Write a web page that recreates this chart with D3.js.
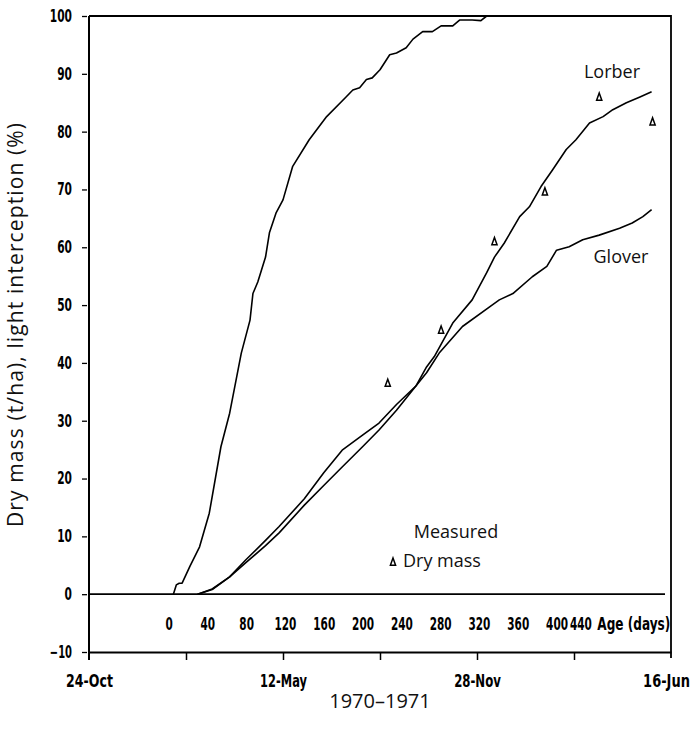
<!DOCTYPE html>
<html>
<head>
<meta charset="utf-8">
<script src="https://cdn.jsdelivr.net/npm/d3@7"></script>
<style>
  body { margin: 0; background: #fff; }
  .tick text, .axlbl { font-family: "DejaVu Sans Condensed", "DejaVu Sans", sans-serif; font-weight: bold; font-size: 17px; }
  .lbl { font-family: "Open Sans", sans-serif; fill: #111; }
</style>
</head>
<body>
<script>
// y ticks and axis ticks
const yTicks = [-10, 0, 10, 20, 30, 40, 50, 60, 70, 80, 90, 100];
const ageTicks = [0, 40, 80, 120, 160, 200, 240, 280, 320, 360, 400, 440];
const dateTicks = [
  new Date(Date.UTC(1969, 9, 24)), new Date(Date.UTC(1970, 1, 1)),
  new Date(Date.UTC(1970, 4, 12)), new Date(Date.UTC(1970, 7, 20)),
  new Date(Date.UTC(1970, 10, 28)), new Date(Date.UTC(1971, 2, 8)),
  new Date(Date.UTC(1971, 5, 16))
];
const dateLabels = ["24-Oct", "", "12-May", "", "28-Nov", "", "16-Jun"];
const ageZero = new Date(Date.UTC(1970, 0, 14)); // age 0 = 14 Jan 1970

// light interception (%) vs age (days)
const liAge = [5, 8, 11, 14, 22, 32, 42, 54, 63, 75, 84, 87, 92, 100, 104, 111, 118, 128, 145, 163, 183, 190, 197, 204, 210, 218, 228, 235, 245, 252, 262, 272, 281, 293, 300, 313, 322, 328];
const liValue = [0, 1.6, 1.9, 1.9, 4.8, 8.2, 14, 25.5, 31.3, 41.7, 47.4, 52, 54, 58.3, 62.5, 66, 68.2, 74, 78.6, 82.6, 86, 87.2, 87.6, 89, 89.3, 90.7, 93.3, 93.6, 94.5, 96, 97.3, 97.3, 98.3, 98.3, 99.3, 99.3, 99.2, 100];

// modelled dry mass (t/ha)
const lorberAge = [30, 45, 63, 80, 100, 114, 140, 160, 179, 200, 217, 235, 255, 266, 274, 293, 313, 328, 336, 346, 362, 372, 384, 396, 410, 420, 434, 448, 458, 472, 486, 498];
const lorberValue = [0, 0.8, 3.0, 5.5, 8.4, 10.6, 15.4, 18.8, 22, 25.5, 28.4, 31.8, 36, 39.3, 41.1, 46.9, 50.9, 55.6, 58.3, 60.7, 65.3, 67, 70.5, 73.4, 76.9, 78.6, 81.5, 82.6, 83.8, 85, 86, 86.9];
const gloverAge = [30, 45, 63, 80, 100, 114, 140, 160, 179, 200, 217, 235, 255, 266, 279, 303, 331, 341, 355, 375, 390, 400, 413, 427, 444, 465, 478, 489, 498];
const gloverValue = [0, 0.9, 3.0, 6.0, 9.3, 11.7, 16.5, 21, 24.9, 27.5, 29.6, 32.8, 36, 38.3, 41.7, 46.3, 49.7, 50.9, 52, 54.9, 56.7, 59.5, 60.1, 61.3, 62.1, 63.3, 64.2, 65.3, 66.5];

// measured dry mass
const measuredAge = [226, 281, 336, 388, 444, 499];
const measuredDryMass = [36.5, 45.7, 61, 69.6, 86, 81.7];

const width = 693, height = 730;
const margin = { top: 16, right: 22, bottom: 78, left: 89 };

const svg = d3.select("body").append("svg")
  .attr("width", width).attr("height", height);

const xDate = d3.scaleUtc()
  .domain([dateTicks[0], dateTicks[dateTicks.length - 1]])
  .range([margin.left, width - margin.right]);
const x = age => xDate(d3.utcDay.offset(ageZero, age));

const y = d3.scaleLinear()
  .domain([-10, 100])
  .range([height - margin.bottom, margin.top]);

// squeeze the bold labels horizontally to a narrow look
function narrow(sel, perChar) {
  sel.each(function() {
    const s = this.textContent;
    if (!s) return;
    const k = s.length * perChar / this.getComputedTextLength();
    const t = d3.select(this);
    const x0 = +t.attr("x") || 0;
    t.attr("x", x0 / k).attr("transform", `scale(${k},1)`);
  });
}

// frame: top and right
svg.append("path")
  .attr("d", `M${margin.left},${y(100)}H${width - margin.right}V${y(-10) + 6}`)
  .attr("fill", "none").attr("stroke", "#000").attr("stroke-width", 1.8);

// zero line
svg.append("line")
  .attr("x1", margin.left).attr("x2", width - margin.right - 6)
  .attr("y1", y(0)).attr("y2", y(0))
  .attr("stroke", "#000").attr("stroke-width", 1.8);

// y axis
const yAxis = svg.append("g")
  .attr("transform", `translate(${margin.left},0)`)
  .call(d3.axisLeft(y).tickValues(yTicks).tickSize(6).tickPadding(11).tickSizeOuter(0));
yAxis.select(".domain").remove();
yAxis.selectAll(".tick line").attr("x1", -2).attr("x2", -7).attr("stroke-width", 1.3);
narrow(yAxis.selectAll(".tick text"), 7.4);
svg.append("line")
  .attr("x1", margin.left).attr("x2", margin.left)
  .attr("y1", y(100)).attr("y2", y(-10) + 8)
  .attr("stroke", "#000").attr("stroke-width", 2);

// date axis at -10
const xAxis = svg.append("g")
  .attr("transform", `translate(0,${y(-10)})`)
  .call(d3.axisBottom(xDate).tickValues(dateTicks).tickSize(8).tickSizeOuter(0)
    .tickPadding(15).tickFormat((d, i) => dateLabels[i]));
xAxis.select(".domain").attr("stroke-width", 1.8);
xAxis.selectAll(".tick line").attr("stroke-width", 1.5);
xAxis.selectAll(".tick").filter((d, i) => i === 0 || i === dateTicks.length - 1)
  .select("line").remove();
xAxis.selectAll(".tick").filter((d, i) => i === dateTicks.length - 1)
  .select("text").attr("x", -5);
narrow(xAxis.selectAll(".tick text"), 7.8);

// age axis labels
const ageScale = d3.scaleLinear()
  .domain([0, 440]).range([x(0), x(440)]);
const ageAxis = svg.append("g")
  .attr("transform", `translate(0,${y(0)})`)
  .call(d3.axisBottom(ageScale).tickValues(ageTicks).tickSize(0).tickPadding(24));
ageAxis.select(".domain").remove();
ageAxis.selectAll(".tick").filter(d => d === 440).select("text").attr("x", -15);
narrow(ageAxis.selectAll(".tick text"), 7.3);
const ageTitle = ageAxis.append("text")
  .attr("class", "axlbl")
  .attr("x", ageScale(440) + 2).attr("y", 24).attr("dy", "0.71em")
  .attr("text-anchor", "start").attr("fill", "#000")
  .text("Age (days)");
narrow(ageTitle, 7.3);

// curves
const line = d3.line().x(d => x(d[0])).y(d => y(d[1]));
const series = [
  d3.zip(liAge, liValue),
  d3.zip(lorberAge, lorberValue),
  d3.zip(gloverAge, gloverValue)
];
svg.append("g").selectAll("path")
  .data(series)
  .join("path")
  .attr("d", line)
  .attr("fill", "none").attr("stroke", "#000").attr("stroke-width", 1.6)
  .attr("stroke-linejoin", "round");

// measured points
const tri = "M0,-4L2.6,3.2L-2.6,3.2Z";
svg.append("g").selectAll("path")
  .data(d3.zip(measuredAge, measuredDryMass))
  .join("path")
  .attr("transform", d => `translate(${x(d[0])},${y(d[1])})`)
  .attr("d", tri)
  .attr("fill", "none").attr("stroke", "#000").attr("stroke-width", 1.5);

// labels
svg.append("text").attr("class", "lbl")
  .attr("x", 612).attr("y", 78).attr("text-anchor", "middle")
  .style("font-size", "18px").text("Lorber");
svg.append("text").attr("class", "lbl")
  .attr("x", 621).attr("y", 263).attr("text-anchor", "middle")
  .style("font-size", "18px").text("Glover");
svg.append("text").attr("class", "lbl")
  .attr("x", 456).attr("y", 538).attr("text-anchor", "middle")
  .style("font-size", "18px").text("Measured");
svg.append("path")
  .attr("transform", "translate(393,562)")
  .attr("d", tri)
  .attr("fill", "none").attr("stroke", "#000").attr("stroke-width", 1.5);
svg.append("text").attr("class", "lbl")
  .attr("x", 403).attr("y", 567)
  .style("font-size", "18px").text("Dry mass");

svg.append("text").attr("class", "lbl")
  .attr("transform", `translate(23,${325}) rotate(-90)`)
  .attr("text-anchor", "middle")
  .attr("textLength", 404).attr("lengthAdjust", "spacing")
  .style("font-size", "21px")
  .text("Dry mass (t/ha), light interception (%)");

svg.append("text").attr("class", "lbl")
  .attr("x", 380).attr("y", 708).attr("text-anchor", "middle")
  .style("font-size", "20px")
  .text("1970\u20131971");
</script>
</body>
</html>
